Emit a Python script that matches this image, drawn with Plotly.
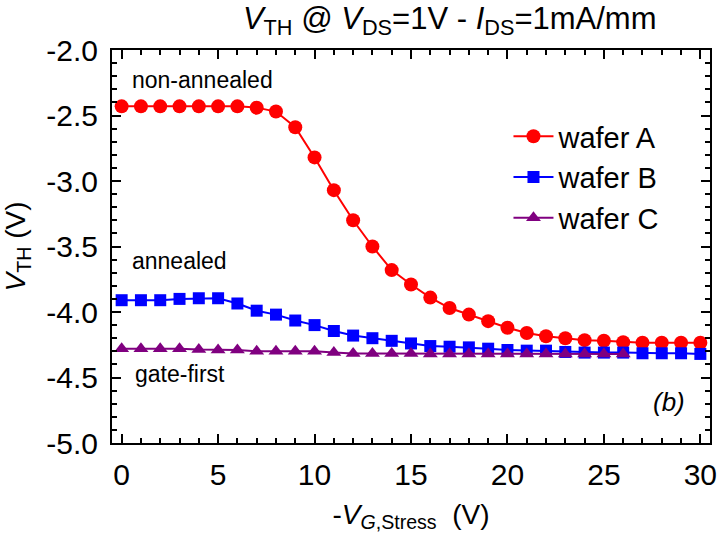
import plotly.graph_objects as go

# Gate stress voltage -V_G,Stress (V)
v_stress = list(range(0, 31))
v_stress_c = list(range(0, 27))

# Threshold voltage V_TH (V) per wafer
vth_wafer_a = [-2.43, -2.43, -2.43, -2.43, -2.43, -2.43, -2.43, -2.44,
               -2.47, -2.59, -2.82, -3.07, -3.30, -3.50, -3.68, -3.79,
               -3.89, -3.97, -4.02, -4.07, -4.12, -4.16, -4.185, -4.20,
               -4.215, -4.22, -4.23, -4.235, -4.235, -4.235, -4.235]
vth_wafer_b = [-3.91, -3.91, -3.91, -3.90, -3.895, -3.895, -3.935, -3.99,
               -4.02, -4.065, -4.10, -4.145, -4.18, -4.20, -4.22, -4.24,
               -4.26, -4.265, -4.27, -4.28, -4.29, -4.295, -4.295, -4.305,
               -4.31, -4.31, -4.31, -4.315, -4.315, -4.315, -4.32]
vth_wafer_c = [-4.28, -4.28, -4.28, -4.28, -4.286, -4.29, -4.29, -4.30,
               -4.30, -4.30, -4.30, -4.31, -4.317, -4.317, -4.317, -4.317,
               -4.32, -4.32, -4.32, -4.32, -4.32, -4.32, -4.32, -4.32,
               -4.32, -4.32, -4.32]

series_names = ["wafer A", "wafer B", "wafer C"]
y_ticks = [-2.0, -2.5, -3.0, -3.5, -4.0, -4.5, -5.0]
x_ticks = [0, 5, 10, 15, 20, 25, 30]

NARROW = "Liberation Sans Narrow, Arial Narrow, Liberation Sans, Arial, sans-serif"
REGULAR = "Liberation Sans, Arial, sans-serif"

fig = go.Figure()
fig.add_trace(go.Scatter(
    x=v_stress, y=vth_wafer_a, name=series_names[0], mode="lines+markers",
    line=dict(color="#FF0000", width=2),
    marker=dict(symbol="circle", size=14, color="#FF0000"),
))
fig.add_trace(go.Scatter(
    x=v_stress, y=vth_wafer_b, name=series_names[1], mode="lines+markers",
    line=dict(color="#0000FF", width=2),
    marker=dict(symbol="square", size=12, color="#0000FF"),
))
fig.add_trace(go.Scatter(
    x=v_stress_c, y=vth_wafer_c, name=series_names[2], mode="lines+markers",
    line=dict(color="#800080", width=2),
    marker=dict(symbol="triangle-up", size=13, color="#800080"),
))

axis_common = dict(
    showline=True, linecolor="black", linewidth=2, mirror="allticks",
    ticks="inside", ticklen=9, tickwidth=1.5, tickcolor="black",
    showgrid=False, zeroline=False,
    tickfont=dict(family=NARROW, size=30, color="black"),
)

fig.update_xaxes(
    range=[-0.5, 30.5], tickvals=x_ticks, ticktext=[str(v) for v in x_ticks],
    minor=dict(ticks="inside", ticklen=5, tickwidth=1.5, tickcolor="black", dtick=1),
    title=dict(text="-<i>V</i><sub><i>G</i>,Stress</sub>  (V)",
               font=dict(family=NARROW, size=28, color="black"), standoff=14),
    ticklabelstandoff=4,
    **axis_common,
)
fig.update_yaxes(
    range=[-5.0, -2.0], tickvals=y_ticks, ticktext=[f"{v:.1f}" for v in y_ticks],
    minor=dict(ticks="inside", ticklen=5, tickwidth=1.5, tickcolor="black", dtick=0.1),
    title=dict(text="<i>V</i><sub>TH</sub> (V)",
               font=dict(family=NARROW, size=28, color="black"), standoff=12),
    ticklabelstandoff=6,
    **axis_common,
)

labels = [
    (0.45, -2.23, "non-annealed"),
    (0.45, -3.61, "annealed"),
    (0.6, -4.47, "gate-first"),
]
for lx, ly, txt in labels:
    fig.add_annotation(x=lx, y=ly, text=txt, showarrow=False, xanchor="left",
                       yanchor="middle", font=dict(family=REGULAR, size=23, color="black"))
fig.add_annotation(x=28.4, y=-4.69, text="<i>(b)</i>", showarrow=False,
                   xanchor="center", yanchor="middle",
                   font=dict(family=REGULAR, size=26, color="black"))

fig.update_layout(
    width=723, height=535,
    margin=dict(l=112, r=6, t=50, b=92),
    paper_bgcolor="white", plot_bgcolor="white",
    title=dict(text="<i>V</i><sub>TH</sub> @ <i>V</i><sub>DS</sub>=1V - <i>I</i><sub>DS</sub>=1mA/mm",
               x=0.622, xanchor="center", y=0.967, yanchor="middle",
               font=dict(family=NARROW, size=31, color="black")),
    legend=dict(x=0.663, y=0.845, xanchor="left", yanchor="top",
                bgcolor="rgba(0,0,0,0)", borderwidth=0, itemwidth=40,
                font=dict(family=REGULAR, size=29, color="black")),
)

fig.write_html("out.html")
